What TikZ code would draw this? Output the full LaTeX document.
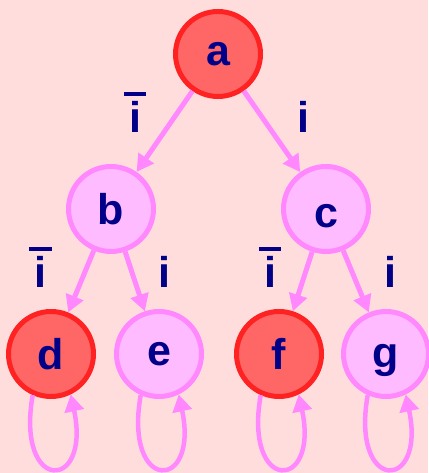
\documentclass[tikz,border=0pt]{standalone}
\usepackage{fontspec}
\setmainfont{Liberation Sans}
\usetikzlibrary{arrows.meta}
\definecolor{bg}{HTML}{FFDDDD}
\definecolor{lightfill}{HTML}{FFBBFF}
\definecolor{pinkline}{HTML}{FF88FF}
\definecolor{redfill}{HTML}{FF6666}
\definecolor{redline}{HTML}{FF2222}
\definecolor{txt}{HTML}{000088}
\newcommand\ibar{\makebox[0pt][l]{\hspace*{-0.121em}\rule[0.85em]{0.52em}{0.1em}}i}
\begin{document}
\begin{tikzpicture}[x=1pt,y=1pt,
  state/.style={circle, minimum size=85pt, inner sep=0pt, line width=5pt,
    font=\fontsize{43}{50}\selectfont\bfseries, text=txt},
  lightstate/.style={state, draw=pinkline, fill=lightfill},
  redstate/.style={state, draw=redline, fill=redfill},
  edge/.style={draw=pinkline, line width=5pt, -{Triangle[length=17pt,width=18pt]}},
  loopedge/.style={draw=pinkline, line width=4.5pt, -{Triangle[length=17pt,width=19pt]}},
  lbl/.style={anchor=base, inner sep=0pt, text=txt, font=\fontsize{43}{50}\selectfont\bfseries}]
\fill[bg] (0,0) rectangle (428,473);
\useasboundingbox (0,0) rectangle (428,473);
% states
\node[redstate] (a) at (218,419) {a};
\node[lightstate] (b) at (111,264) {b};
\node[lightstate, text height=37pt, text depth=0pt] (c) at (326,264) {c};
\node[redstate] (d) at (51,119) {d};
\node[lightstate] (e) at (159,119) {e};
\node[redstate] (f) at (279,119) {f};
\node[lightstate, text height=37pt] (g) at (386,119) {g};
% transitions
\draw[edge] (a) -- (b);
\draw[edge] (a) -- (c);
\draw[edge] (b) -- (d);
\draw[edge] (b) -- (e);
\draw[edge] (c) -- (f);
\draw[edge] (c) -- (g);
% self loops
\foreach \n in {d,e,f,g}{
  \draw[loopedge] (\n.-114) .. controls +(-100:100) and +(-78:100) .. (\n.-64);
}
% labels
\node[lbl] (l1) at (135,340) {\ibar};
\node[lbl] (l2) at (303.5,340) {i};
\node[lbl] (l3) at (40.5,185) {\ibar};
\node[lbl] (l4) at (164.5,185) {i};
\node[lbl] (l5) at (270,185) {\ibar};
\node[lbl] (l6) at (390,185) {i};
\end{tikzpicture}
\end{document}
